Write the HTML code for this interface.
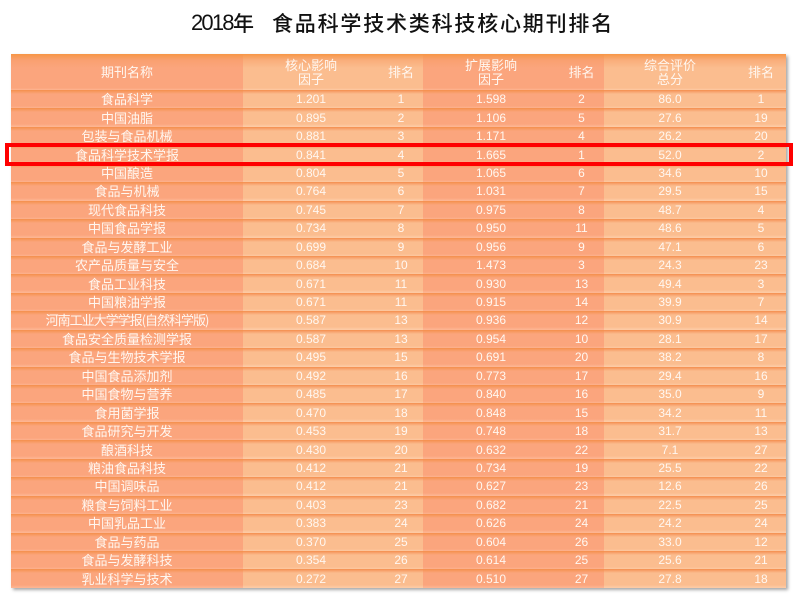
<!DOCTYPE html>
<html><head><meta charset="utf-8">
<style>
html,body{margin:0;padding:0;background:#fff;width:800px;height:600px;overflow:hidden;position:relative;}
.t1{position:absolute;top:12px;left:191px;font-family:"Liberation Sans",sans-serif;font-size:22px;letter-spacing:-1.8px;line-height:22px;color:#111;}
.t2{position:absolute;top:12px;left:233px;font-family:"Noto Sans CJK SC",sans-serif;font-size:21px;line-height:22px;color:#111;font-weight:500;}
.t3{position:absolute;top:12px;left:272px;font-family:"Noto Sans CJK SC",sans-serif;font-size:21px;letter-spacing:1.8px;line-height:22px;color:#111;font-weight:500;white-space:nowrap;}
table{position:absolute;left:11px;top:54px;width:775px;border-collapse:collapse;table-layout:fixed;box-shadow:2px 2px 3px rgba(0,0,0,0.35);}
td{padding:0;text-align:center;color:#fff7f0;font-family:"Liberation Sans","Noto Sans CJK SC",sans-serif;font-size:12px;height:18.44px;line-height:18px;overflow:hidden;white-space:nowrap;}
td.c{font-family:"Noto Sans CJK SC",sans-serif;font-size:13px;}
.d{background:linear-gradient(to bottom,#f48e4c 0px,#f7995f 1.5px,#fba57d 4px,#fba57d 16px,#fdb592 18.44px);}
.l{background:linear-gradient(to bottom,#f48e4c 0px,#f7a06a 1.5px,#fbbd8f 4px,#fbbd8f 16px,#fdcba5 18.44px);}
tr.h td{height:36px;line-height:14px;font-family:"Noto Sans CJK SC",sans-serif;font-size:13px;}
tr.h td.d{background:linear-gradient(to bottom,#f79646 0px,#f9a070 6px,#fba57d 14px,#fba57d 34px,#fdb592 36px);}
tr.h td.l{background:linear-gradient(to bottom,#f79646 0px,#f9ad7a 6px,#fbbd8f 14px,#fbbd8f 34px,#fdcba5 36px);}
.red{position:absolute;left:5px;top:143px;width:780px;height:15px;border:4px solid #ff0000;}
</style></head><body>
<div class="t1">2018</div>
<div class="t2">年</div>
<div class="t3">食品科学技术类科技核心期刊排名</div>
<table>
<colgroup><col style="width:232px"><col style="width:136px"><col style="width:44px"><col style="width:136px"><col style="width:45px"><col style="width:132px"><col style="width:50px"></colgroup>
<tr class="h"><td class="d">期刊名称</td><td class="l">核心影响<br>因子</td><td class="l">排名</td><td class="d">扩展影响<br>因子</td><td class="d">排名</td><td class="l">综合评价<br>总分</td><td class="l">排名</td></tr>
<tr><td class="d c">食品科学</td><td class="l">1.201</td><td class="l">1</td><td class="d">1.598</td><td class="d">2</td><td class="l">86.0</td><td class="l">1</td></tr>
<tr><td class="d c">中国油脂</td><td class="l">0.895</td><td class="l">2</td><td class="d">1.106</td><td class="d">5</td><td class="l">27.6</td><td class="l">19</td></tr>
<tr><td class="d c">包装与食品机械</td><td class="l">0.881</td><td class="l">3</td><td class="d">1.171</td><td class="d">4</td><td class="l">26.2</td><td class="l">20</td></tr>
<tr><td class="d c">食品科学技术学报</td><td class="l">0.841</td><td class="l">4</td><td class="d">1.665</td><td class="d">1</td><td class="l">52.0</td><td class="l">2</td></tr>
<tr><td class="d c">中国酿造</td><td class="l">0.804</td><td class="l">5</td><td class="d">1.065</td><td class="d">6</td><td class="l">34.6</td><td class="l">10</td></tr>
<tr><td class="d c">食品与机械</td><td class="l">0.764</td><td class="l">6</td><td class="d">1.031</td><td class="d">7</td><td class="l">29.5</td><td class="l">15</td></tr>
<tr><td class="d c">现代食品科技</td><td class="l">0.745</td><td class="l">7</td><td class="d">0.975</td><td class="d">8</td><td class="l">48.7</td><td class="l">4</td></tr>
<tr><td class="d c">中国食品学报</td><td class="l">0.734</td><td class="l">8</td><td class="d">0.950</td><td class="d">11</td><td class="l">48.6</td><td class="l">5</td></tr>
<tr><td class="d c">食品与发酵工业</td><td class="l">0.699</td><td class="l">9</td><td class="d">0.956</td><td class="d">9</td><td class="l">47.1</td><td class="l">6</td></tr>
<tr><td class="d c">农产品质量与安全</td><td class="l">0.684</td><td class="l">10</td><td class="d">1.473</td><td class="d">3</td><td class="l">24.3</td><td class="l">23</td></tr>
<tr><td class="d c">食品工业科技</td><td class="l">0.671</td><td class="l">11</td><td class="d">0.930</td><td class="d">13</td><td class="l">49.4</td><td class="l">3</td></tr>
<tr><td class="d c">中国粮油学报</td><td class="l">0.671</td><td class="l">11</td><td class="d">0.915</td><td class="d">14</td><td class="l">39.9</td><td class="l">7</td></tr>
<tr><td class="d c" style="letter-spacing:-1px">河南工业大学学报(自然科学版)</td><td class="l">0.587</td><td class="l">13</td><td class="d">0.936</td><td class="d">12</td><td class="l">30.9</td><td class="l">14</td></tr>
<tr><td class="d c">食品安全质量检测学报</td><td class="l">0.587</td><td class="l">13</td><td class="d">0.954</td><td class="d">10</td><td class="l">28.1</td><td class="l">17</td></tr>
<tr><td class="d c">食品与生物技术学报</td><td class="l">0.495</td><td class="l">15</td><td class="d">0.691</td><td class="d">20</td><td class="l">38.2</td><td class="l">8</td></tr>
<tr><td class="d c">中国食品添加剂</td><td class="l">0.492</td><td class="l">16</td><td class="d">0.773</td><td class="d">17</td><td class="l">29.4</td><td class="l">16</td></tr>
<tr><td class="d c">中国食物与营养</td><td class="l">0.485</td><td class="l">17</td><td class="d">0.840</td><td class="d">16</td><td class="l">35.0</td><td class="l">9</td></tr>
<tr><td class="d c">食用菌学报</td><td class="l">0.470</td><td class="l">18</td><td class="d">0.848</td><td class="d">15</td><td class="l">34.2</td><td class="l">11</td></tr>
<tr><td class="d c">食品研究与开发</td><td class="l">0.453</td><td class="l">19</td><td class="d">0.748</td><td class="d">18</td><td class="l">31.7</td><td class="l">13</td></tr>
<tr><td class="d c">酿酒科技</td><td class="l">0.430</td><td class="l">20</td><td class="d">0.632</td><td class="d">22</td><td class="l">7.1</td><td class="l">27</td></tr>
<tr><td class="d c">粮油食品科技</td><td class="l">0.412</td><td class="l">21</td><td class="d">0.734</td><td class="d">19</td><td class="l">25.5</td><td class="l">22</td></tr>
<tr><td class="d c">中国调味品</td><td class="l">0.412</td><td class="l">21</td><td class="d">0.627</td><td class="d">23</td><td class="l">12.6</td><td class="l">26</td></tr>
<tr><td class="d c">粮食与饲料工业</td><td class="l">0.403</td><td class="l">23</td><td class="d">0.682</td><td class="d">21</td><td class="l">22.5</td><td class="l">25</td></tr>
<tr><td class="d c">中国乳品工业</td><td class="l">0.383</td><td class="l">24</td><td class="d">0.626</td><td class="d">24</td><td class="l">24.2</td><td class="l">24</td></tr>
<tr><td class="d c">食品与药品</td><td class="l">0.370</td><td class="l">25</td><td class="d">0.604</td><td class="d">26</td><td class="l">33.0</td><td class="l">12</td></tr>
<tr><td class="d c">食品与发酵科技</td><td class="l">0.354</td><td class="l">26</td><td class="d">0.614</td><td class="d">25</td><td class="l">25.6</td><td class="l">21</td></tr>
<tr><td class="d c">乳业科学与技术</td><td class="l">0.272</td><td class="l">27</td><td class="d">0.510</td><td class="d">27</td><td class="l">27.8</td><td class="l">18</td></tr>
</table>
<div class="red"></div>
</body></html>
